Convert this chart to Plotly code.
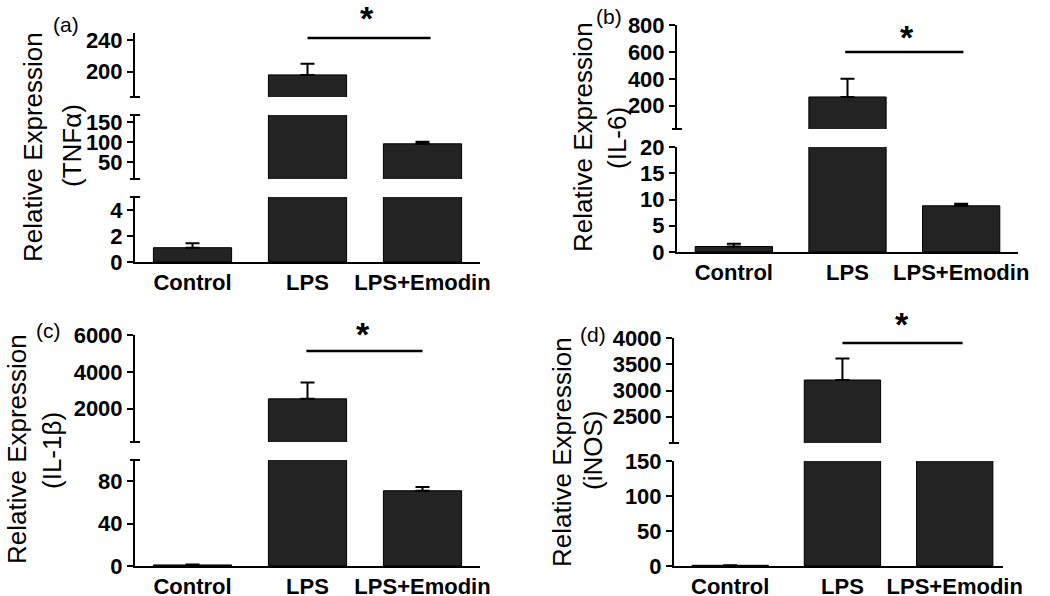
import plotly.graph_objects as go

# ---------------- data ----------------
categories = ["Control", "LPS", "LPS+Emodin"]

tnfa_mean = [1.1, 196, 95]
tnfa_err = [0.35, 14, 5]
il6_mean = [1.05, 265, 8.8]
il6_err = [0.5, 135, 0.4]
il1b_mean = [1.0, 2540, 71]
il1b_err = [0.3, 880, 3.5]
inos_mean = [1.0, 3200, 600]
inos_err = [0.2, 410, 0]

# labelled ticks of each axis segment (bottom -> top)
tnfa_ticks = [[0, 2, 4], [50, 100, 150], [200, 240]]
il6_ticks = [[0, 5, 10, 15, 20], [200, 400, 600, 800]]
il1b_ticks = [[0, 40, 80], [2000, 4000, 6000]]
inos_ticks = [[0, 50, 100, 150], [2500, 3000, 3500, 4000]]

panel_labels = ["(a)", "(b)", "(c)", "(d)"]
titles = ["(TNF\u03b1)", "(IL-6)", "(IL-1\u03b2)", "(iNOS)"]

# ---------------- layout helpers ----------------
W, H = 1050, 596
FONT = "Liberation Sans, Arial, sans-serif"


def px(p):
    return p / W


def py(p):
    return 1 - p / H


panels = [
    dict(values=tnfa_mean, errs=tnfa_err, xdom=(135, 480), xr=(-0.5, 2.5),
         segs=[dict(pix=(197, 262), rng=(0, 5), ticks=tnfa_ticks[0], ends=["hi"]),
               dict(pix=(115, 179), rng=(7, 167), ticks=tnfa_ticks[1], ends=["lo", "hi"]),
               dict(pix=(33, 97), rng=(168, 249), ticks=tnfa_ticks[2], ends=["lo"])],
         sig=dict(x=(1.0, 2.07), y=38), star=(367, 14),
         lab=(66, 25), t1=(33, 147), t2=(72, 146)),
    dict(values=il6_mean, errs=il6_err, xdom=(677, 1018), xr=(-0.5, 2.5),
         segs=[dict(pix=(147, 252), rng=(0, 20), ticks=il6_ticks[0], ends=[]),
               dict(pix=(25, 129), rng=(27, 800), ticks=il6_ticks[1], ends=["lo"])],
         sig=dict(x=(0.98, 2.02), y=52), star=(907, 33),
         lab=(609, 17), t1=(583, 137), t2=(617, 138)),
    dict(values=il1b_mean, errs=il1b_err, xdom=(135, 480), xr=(-0.5, 2.5),
         segs=[dict(pix=(460, 566), rng=(0, 100), ticks=il1b_ticks[0], ends=["hi"]),
               dict(pix=(335, 442), rng=(200, 6000), ticks=il1b_ticks[1], ends=["lo"])],
         sig=dict(x=(0.99, 2.0), y=351), star=(363, 330),
         lab=(48, 330), t1=(17, 449), t2=(52, 451)),
    dict(values=inos_mean, errs=inos_err, xdom=(674, 1003), xr=(-0.5, 2.43),
         segs=[dict(pix=(461, 566), rng=(0, 150), ticks=inos_ticks[0], ends=[]),
               dict(pix=(338, 443), rng=(2000, 4000), ticks=inos_ticks[1], ends=["lo"])],
         sig=dict(x=(1.0, 2.07), y=343), star=(902, 320),
         lab=(593, 334), t1=(562, 452), t2=(593, 451)),
]

fig = go.Figure()
layout = dict(width=W, height=H, margin=dict(l=0, r=0, t=0, b=0, autoexpand=False),
              plot_bgcolor="white", paper_bgcolor="white", showlegend=False,
              barmode="overlay", shapes=[], annotations=[],
              font=dict(family=FONT, color="black"))

yi = 0
for pi, p in enumerate(panels):
    xname = "x" if pi == 0 else f"x{pi + 1}"
    xkey = "xaxis" if pi == 0 else f"xaxis{pi + 1}"
    bottom_name = None
    ax_x = p["xdom"][0]
    for si, s in enumerate(p["segs"]):
        yi += 1
        yname = "y" if yi == 1 else f"y{yi}"
        ykey = "yaxis" if yi == 1 else f"yaxis{yi}"
        if si == 0:
            bottom_name = yname
        top, bot = s["pix"]
        tv = list(s["ticks"])
        tt = [str(v) for v in s["ticks"]]
        # break caps at the open ends of a segment (crossing the axis line)
        for end in s["ends"]:
            ypix = bot if end == "lo" else top
            layout["shapes"].append(dict(type="line", xref="paper", yref="paper",
                                         x0=px(ax_x - 5), x1=px(ax_x + 5),
                                         y0=py(ypix), y1=py(ypix),
                                         line=dict(color="black", width=2)))
        fig.add_trace(go.Bar(
            x=categories, y=p["values"], xaxis=xname, yaxis=yname, width=0.68,
            marker=dict(color="#232323", line=dict(color="black", width=1)),
            error_y=dict(type="data", symmetric=False, array=p["errs"],
                         arrayminus=[0] * len(p["errs"]), color="black",
                         thickness=2, width=7),
            hoverinfo="skip"))
        layout[ykey] = dict(domain=[py(bot), py(top)], range=list(s["rng"]),
                            autorange=False, anchor=xname, showline=True,
                            linecolor="black", linewidth=2, ticks="outside",
                            ticklen=6, tickwidth=2, tickcolor="black",
                            tickmode="array", tickvals=tv, ticktext=tt,
                            tickfont=dict(family=FONT, size=22, color="black",
                                          weight="bold"),
                            showgrid=False, zeroline=False, fixedrange=True)
    layout[xkey] = dict(domain=[px(p["xdom"][0]), px(p["xdom"][1])],
                        range=list(p["xr"]), anchor=bottom_name, showline=True,
                        linecolor="black", linewidth=2, ticks="",
                        showgrid=False, zeroline=False, type="category",
                        fixedrange=True,
                        tickfont=dict(family=FONT, size=22, color="black",
                                      weight="bold"))
    # significance line and star
    layout["shapes"].append(dict(type="line", xref=xname, yref="paper",
                                 x0=p["sig"]["x"][0], x1=p["sig"]["x"][1],
                                 y0=py(p["sig"]["y"]), y1=py(p["sig"]["y"]),
                                 line=dict(color="black", width=2.5)))
    layout["annotations"].append(dict(text="*", x=px(p["star"][0]), y=py(p["star"][1] + 4),
                                      xref="paper", yref="paper", showarrow=False,
                                      font=dict(family=FONT, size=34, color="black",
                                                weight="bold"),
                                      xanchor="center", yanchor="middle"))
    # panel label
    layout["annotations"].append(dict(text=panel_labels[pi], x=px(p["lab"][0]), y=py(p["lab"][1]),
                                      xref="paper", yref="paper", showarrow=False,
                                      font=dict(family=FONT, size=21, color="black"),
                                      xanchor="center", yanchor="middle"))
    # y titles
    layout["annotations"].append(dict(text="Relative Expression", x=px(p["t1"][0]), y=py(p["t1"][1]),
                                      xref="paper", yref="paper", showarrow=False, textangle=-90,
                                      font=dict(family=FONT, size=26, color="black"),
                                      xanchor="center", yanchor="middle"))
    layout["annotations"].append(dict(text=titles[pi], x=px(p["t2"][0]), y=py(p["t2"][1]),
                                      xref="paper", yref="paper", showarrow=False, textangle=-90,
                                      font=dict(family=FONT, size=26, color="black"),
                                      xanchor="center", yanchor="middle"))

fig.update_layout(**layout)
fig.write_html("out.html", config={"displayModeBar": False},
               post_script="document.body.style.margin='0px';"
                           "document.body.style.overflow='hidden';")
